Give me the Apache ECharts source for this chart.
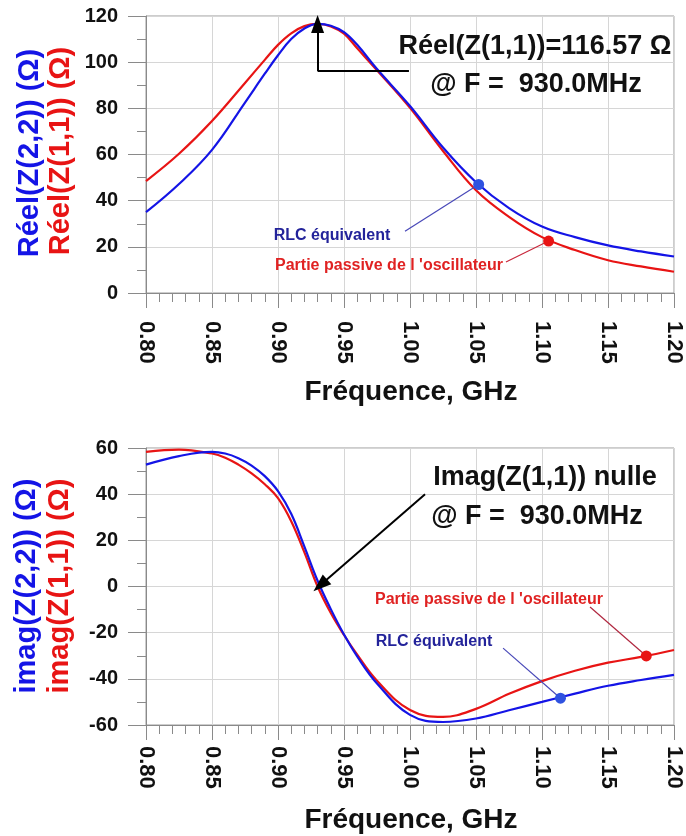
<!DOCTYPE html>
<html>
<head>
<meta charset="utf-8">
<script src="https://cdn.jsdelivr.net/npm/echarts@6/dist/echarts.min.js"></script>
<style>html,body{margin:0;padding:0;background:#fff;}#c{width:686px;height:836px;}</style>
</head>
<body>
<div id="c"></div>
<script>
// ---- data ----
const freqRe = [0.80, 0.825, 0.85, 0.875, 0.89, 0.90, 0.91, 0.92, 0.93, 0.94, 0.95, 0.96, 0.975, 1.00, 1.025, 1.05, 1.075, 1.10, 1.125, 1.15, 1.175, 1.20];
const reZ11 = [48.5, 60.3, 74.5, 91.0, 101.0, 107.5, 112.5, 115.6, 116.57, 115.5, 112.3, 106.0, 96.5, 80.2, 61.5, 44.5, 33.0, 24.2, 18.6, 14.2, 11.5, 9.2];
const reZ22 = [35.0, 47.2, 62.0, 82.5, 95.0, 103.0, 110.0, 114.6, 116.57, 115.8, 113.0, 107.5, 97.0, 81.0, 63.0, 48.0, 36.8, 28.8, 24.2, 20.6, 18.0, 15.8];
const freqIm = [0.80, 0.825, 0.85, 0.86, 0.87, 0.88, 0.89, 0.90, 0.91, 0.92, 0.93, 0.94, 0.95, 0.96, 0.975, 1.00, 1.025, 1.05, 1.075, 1.10, 1.125, 1.15, 1.175, 1.20];
const imZ11 = [58.3, 59.3, 57.6, 55.8, 52.8, 49.0, 44.3, 38.3, 28.3, 14.8, 0.0, -11.5, -21.0, -29.5, -40.8, -53.5, -56.5, -53.0, -46.5, -41.0, -36.5, -33.0, -30.5, -27.5];
const imZ22 = [52.8, 56.5, 58.3, 57.6, 55.6, 52.4, 47.8, 41.3, 31.5, 17.3, 2.5, -9.8, -20.8, -30.3, -42.0, -55.6, -58.7, -57.2, -53.6, -50.0, -46.4, -43.0, -40.5, -38.3];
const xTicks = ['0.80','0.85','0.90','0.95','1.00','1.05','1.10','1.15','1.20'];
const reTicks = [0, 20, 40, 60, 80, 100, 120];
const imTicks = [-60, -40, -20, 0, 20, 40, 60];
const peak = [0.93, 116.57];
const zeroCross = [0.932, 0.5];
const reMarkers = { z22: [1.052, 47], z11: [1.105, 22.5] };
const imMarkers = { z22: [1.114, -48.4], z11: [1.179, -30.1] };

const BLUE = '#1414e6', RED = '#e81414';
const FONT = '"Liberation Sans", Arial, Helvetica, sans-serif';
const pairs = (xs, ys) => xs.map((x, i) => [x, ys[i]]);

function xAxisCfg(gi, margin) {
  return {
    type: 'value', gridIndex: gi, min: 0.8, max: 1.2, interval: 0.05,
    axisLine: { show: true, onZero: false, lineStyle: { color: '#8a8a8a', width: 1 } },
    axisTick: { show: true, length: 15, lineStyle: { color: '#8a8a8a' } },
    minorTick: { show: true, splitNumber: 5, length: 9, lineStyle: { color: '#8a8a8a' } },
    splitLine: { show: true, lineStyle: { color: '#d6d6d6', width: 1 } },
    axisLabel: {
      rotate: -90, margin: margin, fontSize: 22, fontWeight: 'bold', color: '#111', fontFamily: FONT,
      formatter: v => xTicks[Math.round((v - 0.8) / 0.05)] || ''
    }
  };
}
function yAxisCfg(gi, ticks) {
  return {
    type: 'value', gridIndex: gi, min: ticks[0], max: ticks[ticks.length - 1], interval: 20,
    axisLine: { show: true, onZero: false, lineStyle: { color: '#8a8a8a', width: 1 } },
    axisTick: { show: true, length: 18, lineStyle: { color: '#8a8a8a' } },
    minorTick: { show: true, splitNumber: 2, length: 9, lineStyle: { color: '#8a8a8a' } },
    splitLine: { show: true, lineStyle: { color: '#d6d6d6', width: 1 } },
    axisLabel: { margin: 28, fontSize: 20, fontWeight: 'bold', color: '#111', fontFamily: FONT }
  };
}
function leader(from, to, color) {
  return {
    silent: true, animation: false, symbol: ['none', 'none'],
    label: { show: false },
    lineStyle: { color: color, width: 1.2, type: 'solid' },
    data: [[{ coord: from }, { coord: to }]]
  };
}
function dot(coord, color) {
  return {
    silent: true, animation: false, symbol: 'circle', symbolSize: 11,
    itemStyle: { color: color }, label: { show: false },
    data: [{ coord: coord }]
  };
}

const chart = echarts.init(document.getElementById('c'), null, { renderer: 'canvas' });
const txt = (x, y, text, size, color, rot) => ({
  type: 'text', x: x, y: y, rotation: rot || 0, silent: true, z: 100,
  style: { text: text, fontSize: size, fontWeight: 'bold', fill: color, fontFamily: FONT, align: 'center', verticalAlign: 'middle' }
});

chart.setOption({
  animation: false,
  backgroundColor: '#fff',
  grid: [
    { left: 146, right: 12, top: 16, height: 277, show: true, borderColor: '#9a9a9a', borderWidth: 1, backgroundColor: 'transparent' },
    { left: 146, right: 12, top: 448, height: 277, show: true, borderColor: '#9a9a9a', borderWidth: 1, backgroundColor: 'transparent' }
  ],
  xAxis: [xAxisCfg(0, 28), xAxisCfg(1, 21)],
  yAxis: [yAxisCfg(0, reTicks), yAxisCfg(1, imTicks)],
  series: [
    { type: 'line', xAxisIndex: 0, yAxisIndex: 0, data: pairs(freqRe, reZ11), smooth: 0.4, showSymbol: false,
      lineStyle: { color: RED, width: 2.2 }, z: 3,
      markPoint: dot(reMarkers.z11, RED),
      markLine: leader([1.0727, 13.4], reMarkers.z11, '#c8283c') },
    { type: 'line', xAxisIndex: 0, yAxisIndex: 0, data: pairs(freqRe, reZ22), smooth: 0.4, showSymbol: false,
      lineStyle: { color: BLUE, width: 2.2 }, z: 4,
      markPoint: dot(reMarkers.z22, '#2f52e0'),
      markLine: leader([0.9962, 26.8], reMarkers.z22, '#4848b8') },
    { type: 'line', xAxisIndex: 1, yAxisIndex: 1, data: pairs(freqIm, imZ11), smooth: 0.4, showSymbol: false,
      lineStyle: { color: RED, width: 2.2 }, z: 3,
      markPoint: dot(imMarkers.z11, RED),
      markLine: leader([1.1364, -8.9], imMarkers.z11, '#b02840') },
    { type: 'line', xAxisIndex: 1, yAxisIndex: 1, data: pairs(freqIm, imZ22), smooth: 0.4, showSymbol: false,
      lineStyle: { color: BLUE, width: 2.2 }, z: 4,
      markPoint: dot(imMarkers.z22, '#2f52e0'),
      markLine: leader([1.0705, -26.7], imMarkers.z22, '#4848b8') },
    // annotation arrows
    { type: 'line', xAxisIndex: 0, yAxisIndex: 0, data: [], z: 6,
      markLine: { silent: true, animation: false, symbol: ['none', 'triangle'], symbolSize: [13, 18],
        label: { show: false }, lineStyle: { color: '#000', width: 2, type: 'solid' },
        data: [
          [{ coord: [0.9992, 96.2], symbol: 'none' }, { coord: [peak[0], 96.2], symbol: 'none' }],
          [{ coord: [peak[0], 96.2] }, { coord: peak }]
        ] } },
    { type: 'line', xAxisIndex: 1, yAxisIndex: 1, data: [], z: 6,
      markLine: { silent: true, animation: false, symbol: ['none', 'triangle'], symbolSize: [13, 18],
        label: { show: false }, lineStyle: { color: '#000', width: 2, type: 'solid' },
        data: [[{ coord: [1.0114, 40.0] }, { coord: zeroCross }]] } }
  ],
  graphic: [
    txt(30, 153, 'Réel(Z(2,2)) (Ω)', 29, BLUE, Math.PI / 2),
    txt(61, 151, 'Réel(Z(1,1)) (Ω)', 29, RED, Math.PI / 2),
    txt(27, 586, 'imag(Z(2,2)) (Ω)', 29, BLUE, Math.PI / 2),
    txt(60, 586, 'imag(Z(1,1)) (Ω)', 29, RED, Math.PI / 2),
    txt(411, 392, 'Fréquence, GHz', 28, '#111'),
    txt(411, 820, 'Fréquence, GHz', 28, '#111'),
    txt(535, 47, 'Réel(Z(1,1))=116.57 Ω', 27, '#111'),
    txt(536, 85, '@ F =  930.0MHz', 27, '#111'),
    txt(545, 478, 'Imag(Z(1,1)) nulle', 27, '#111'),
    txt(537, 517, '@ F =  930.0MHz', 27, '#111'),
    txt(332, 236, 'RLC équivalent', 16, '#23239a'),
    txt(389, 266, "Partie passive de l 'oscillateur", 16, '#e02222'),
    txt(489, 600, "Partie passive de l 'oscillateur", 16, '#e02222'),
    txt(434, 642, 'RLC équivalent', 16, '#23239a')
  ]
});
</script>
</body>
</html>
